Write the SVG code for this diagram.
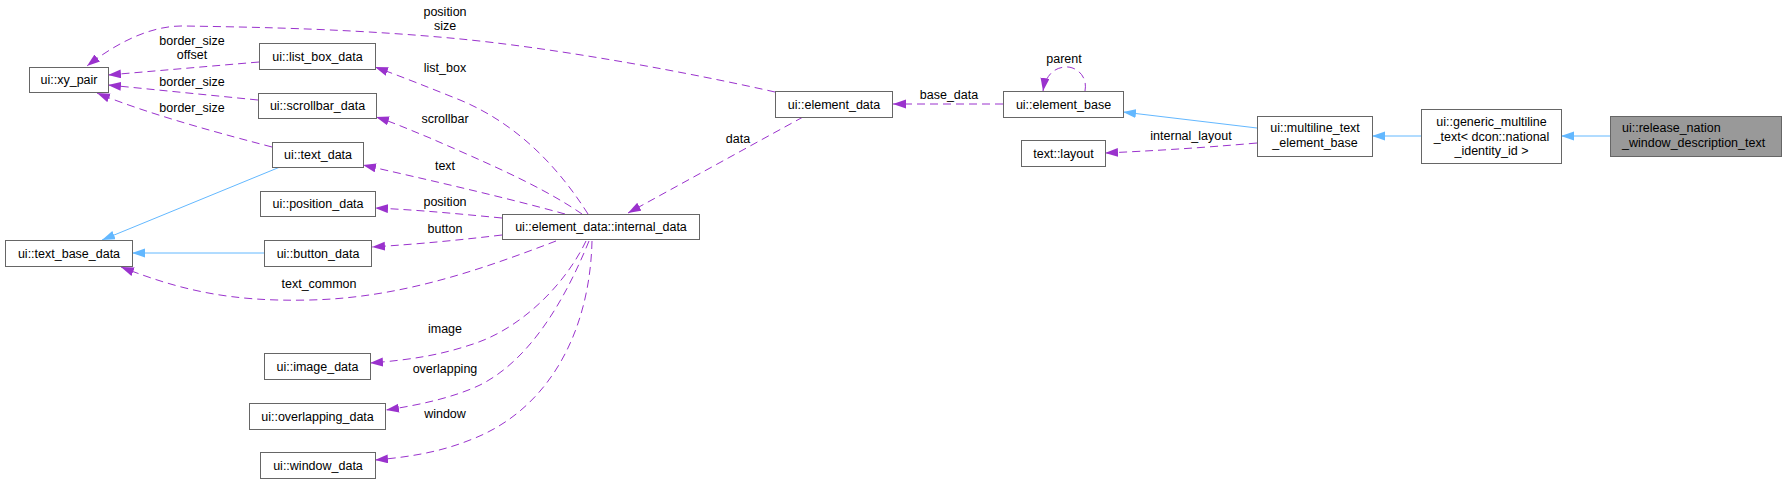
<svg xmlns="http://www.w3.org/2000/svg" width="1787" height="483" viewBox="0 0 1787 483">
<defs>
<style>
.n rect{fill:#ffffff;stroke:#666666;stroke-width:1}
.n.h rect{fill:#999999}
text{font-family:"Liberation Sans",Arial,sans-serif;font-size:12.5px;fill:#000000}
.c{text-anchor:middle}
.u{fill:none;stroke:#9a32cd;stroke-width:1;stroke-dasharray:8,5;marker-end:url(#au)}
.i{fill:none;stroke:#63b8ff;stroke-width:1;marker-end:url(#ai)}
</style>
<marker id="au" markerUnits="userSpaceOnUse" markerWidth="14" markerHeight="10" refX="13" refY="4.5" orient="auto"><path d="M0,0 L13,4.5 L0,9 z" fill="#9a32cd"/></marker>
<marker id="ai" markerUnits="userSpaceOnUse" markerWidth="14" markerHeight="10" refX="13" refY="4.5" orient="auto"><path d="M0,0 L13,4.5 L0,9 z" fill="#63b8ff"/></marker>
</defs>
<rect width="1787" height="483" fill="#ffffff"/>
<g id="edges">
<path class="u" d="M775,92 C700,75 560,48 450,38 C340,28 240,27 185,26 C150,25 115,44 87,66"/>
<path class="u" d="M259,62 L108,75"/>
<path class="u" d="M258,100 L108,85"/>
<path class="u" d="M272,147 C230,136 150,115 97,93"/>
<path class="u" d="M588,214 C560,170 520,125 460,100 C430,88 400,76 375,67"/>
<path class="u" d="M582,214 C540,185 480,160 430,138 C410,130 395,123 376,117"/>
<path class="u" d="M565,214 C500,196 420,178 363,165"/>
<path class="u" d="M502,218 C460,214 420,210 375,208"/>
<path class="u" d="M502,235 C460,240 420,244 372,247"/>
<path class="u" d="M556,241 C480,270 400,298 310,300 C230,302 180,290 121,267"/>
<path class="u" d="M586,241 C565,285 520,330 470,345 C440,355 410,360 370,363"/>
<path class="u" d="M589,241 C565,300 530,360 480,385 C455,397 420,405 386,410"/>
<path class="u" d="M592,241 C590,330 550,410 470,440 C440,452 410,457 375,460"/>
<path class="u" d="M803,117 L628,213"/>
<path class="u" d="M1003,104 L893,104"/>
<path class="u" d="M1085,91 C1088,75 1075,66 1065,67 C1052,68 1045,78 1043,91"/>
<path class="u" d="M1257,143 C1200,148 1150,151 1105,153"/>
<path class="i" d="M1257,128 L1123,112"/>
<path class="i" d="M1421,136 L1372,136"/>
<path class="i" d="M1610,136 L1561,136"/>
<path class="i" d="M280,167 L102,240"/>
<path class="i" d="M264,253 L132,253"/>
<g class="c">
<text x="445" y="16">position</text>
<text x="445" y="30">size</text>
<text x="192" y="45">border_size</text>
<text x="192" y="59">offset</text>
<text x="192" y="86">border_size</text>
<text x="192" y="112">border_size</text>
<text x="445" y="72">list_box</text>
<text x="445" y="123">scrollbar</text>
<text x="445" y="170">text</text>
<text x="445" y="206">position</text>
<text x="445" y="233">button</text>
<text x="319" y="288">text_common</text>
<text x="445" y="333">image</text>
<text x="445" y="373">overlapping</text>
<text x="445" y="418">window</text>
<text x="738" y="143">data</text>
<text x="949" y="99">base_data</text>
<text x="1064" y="63">parent</text>
<text x="1191" y="140">internal_layout</text>
</g>
</g>
<g id="xy_pair" class="n"><rect x="29.5" y="67.5" width="79" height="25"/><text class="c" x="69" y="84">ui::xy_pair</text></g>
<g id="list_box_data" class="n"><rect x="259.5" y="43.5" width="116" height="26"/><text class="c" x="317.5" y="61">ui::list_box_data</text></g>
<g id="scrollbar_data" class="n"><rect x="258.5" y="93.5" width="118" height="25"/><text class="c" x="317.5" y="110">ui::scrollbar_data</text></g>
<g id="text_data" class="n"><rect x="272.5" y="142.5" width="91" height="25"/><text class="c" x="318" y="159">ui::text_data</text></g>
<g id="position_data" class="n"><rect x="260.5" y="191.5" width="115" height="25"/><text class="c" x="318" y="208">ui::position_data</text></g>
<g id="text_base_data" class="n"><rect x="5.5" y="240.5" width="127" height="26"/><text class="c" x="69" y="258">ui::text_base_data</text></g>
<g id="button_data" class="n"><rect x="264.5" y="240.5" width="107" height="26"/><text class="c" x="318" y="258">ui::button_data</text></g>
<g id="image_data" class="n"><rect x="264.5" y="353.5" width="106" height="26"/><text class="c" x="317.5" y="371">ui::image_data</text></g>
<g id="overlapping_data" class="n"><rect x="249.5" y="403.5" width="136" height="26"/><text class="c" x="317.5" y="421">ui::overlapping_data</text></g>
<g id="window_data" class="n"><rect x="260.5" y="452.5" width="115" height="26"/><text class="c" x="318" y="470">ui::window_data</text></g>
<g id="element_data" class="n"><rect x="775.5" y="91.5" width="117" height="26"/><text class="c" x="834" y="109">ui::element_data</text></g>
<g id="internal_data" class="n"><rect x="502.5" y="214.5" width="197" height="25"/><text class="c" x="601" y="231">ui::element_data::internal_data</text></g>
<g id="element_base" class="n"><rect x="1003.5" y="91.5" width="120" height="26"/><text class="c" x="1063.5" y="109">ui::element_base</text></g>
<g id="text_layout" class="n"><rect x="1021.5" y="140.5" width="84" height="26"/><text class="c" x="1063.5" y="158">text::layout</text></g>
<g id="multiline_text_element_base" class="n"><rect x="1257.5" y="116.5" width="115" height="40"/><text class="c" x="1315" y="132">ui::multiline_text</text><text class="c" x="1315" y="147">_element_base</text></g>
<g id="generic_multiline_text" class="n"><rect x="1421.5" y="109.5" width="140" height="54"/><text class="c" x="1491.5" y="126">ui::generic_multiline</text><text class="c" x="1491.5" y="140.5">_text&lt; dcon::national</text><text class="c" x="1491.5" y="155">_identity_id &gt;</text></g>
<g id="release_nation_window_description_text" class="n h"><rect x="1610.5" y="116.5" width="171" height="40"/><text x="1622" y="132">ui::release_nation</text><text x="1622" y="147">_window_description_text</text></g>
</svg>
